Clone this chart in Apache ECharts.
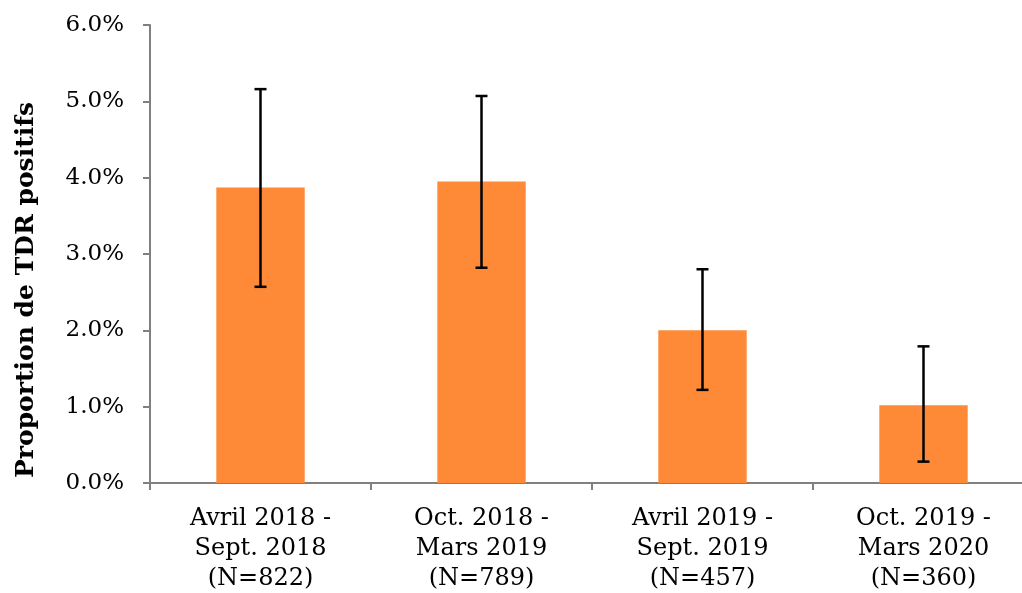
<!DOCTYPE html>
<html>
<head>
<meta charset="utf-8">
<script src="https://cdn.jsdelivr.net/npm/echarts@6/dist/echarts.min.js"></script>
<style>html,body{margin:0;padding:0;background:#fff}#c{width:1022px;height:593px}</style>
</head>
<body>
<div id="c"></div>
<script>
const categories = ['Avril 2018 -\nSept. 2018\n(N=822)', 'Oct. 2018 -\nMars 2019\n(N=789)', 'Avril 2019 -\nSept. 2019\n(N=457)', 'Oct. 2019 -\nMars 2020\n(N=360)'];
const values = [3.87, 3.95, 2.0, 1.02];
const errLow = [2.57, 2.82, 1.22, 0.28];
const errHigh = [5.16, 5.07, 2.80, 1.79];
const yTicks = { min: 0, max: 6, interval: 1 };
const yTitle = 'Proportion de TDR positifs';

const FONT = 'DejaVu Serif';
const chart = echarts.init(document.getElementById('c'), null, { renderer: 'canvas' });
chart.setOption({
  animation: false,
  backgroundColor: '#fff',
  grid: { left: 150, top: 25, right: -12, bottom: 110, containLabel: false, outerBoundsMode: 'none' },
  graphic: [{
    type: 'text',
    x: 26, y: 290,
    rotation: Math.PI / 2,
    style: { text: yTitle, fill: '#000', font: 'bold 25px "DejaVu Serif"', align: 'center', verticalAlign: 'middle' }
  }],
  xAxis: {
    type: 'category',
    data: categories,
    axisLine: { lineStyle: { color: '#808080', width: 2 } },
    axisTick: { show: true, alignWithLabel: false, length: 7, lineStyle: { color: '#808080', width: 2 } },
    axisLabel: { color: '#000', fontFamily: FONT, fontSize: 24, lineHeight: 30, margin: 21, interval: 0 }
  },
  yAxis: {
    type: 'value',
    min: yTicks.min, max: yTicks.max, interval: yTicks.interval,
    splitLine: { show: false },
    axisLine: { show: true, lineStyle: { color: '#808080', width: 2 } },
    axisTick: { show: true, length: 7, lineStyle: { color: '#808080', width: 2 } },
    axisLabel: { color: '#000', fontFamily: FONT, fontSize: 23, margin: 26, formatter: v => v.toFixed(1) + '%' }
  },
  series: [
    {
      type: 'bar',
      data: values,
      barWidth: '40%',
      itemStyle: { color: '#FE8A38' }
    },
    {
      type: 'custom',
      data: values.map((v, i) => [i, errLow[i], errHigh[i]]),
      renderItem: function (params, api) {
        const x = api.value(0);
        const lo = api.coord([x, api.value(1)]);
        const hi = api.coord([x, api.value(2)]);
        const hw = 6;
        const style = { stroke: '#000', lineWidth: 2.5 };
        return {
          type: 'group',
          children: [
            { type: 'line', shape: { x1: lo[0], y1: lo[1], x2: hi[0], y2: hi[1] }, style },
            { type: 'line', shape: { x1: lo[0] - hw, y1: lo[1], x2: lo[0] + hw, y2: lo[1] }, style },
            { type: 'line', shape: { x1: hi[0] - hw, y1: hi[1], x2: hi[0] + hw, y2: hi[1] }, style }
          ]
        };
      },
      z: 10
    }
  ]
});
</script>
</body>
</html>
